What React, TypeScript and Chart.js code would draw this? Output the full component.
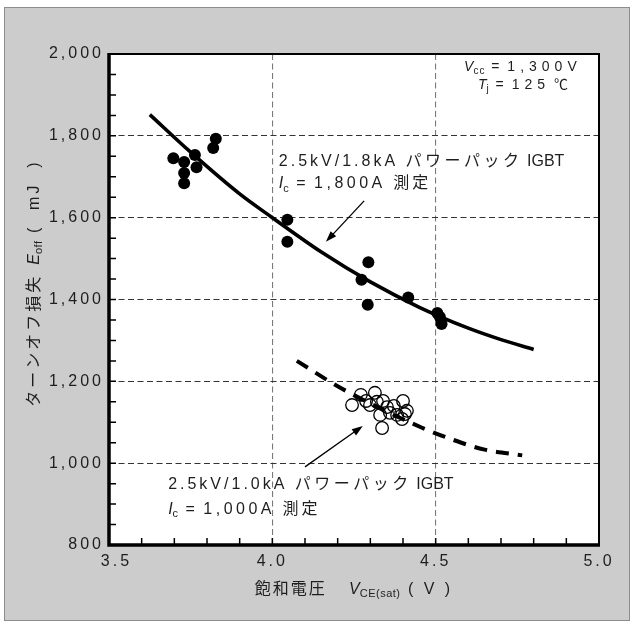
import React, { useEffect, useRef } from 'react';
import { Chart, registerables } from 'chart.js';

Chart.register(...registerables);

// ---- axis ranges / ticks ----
const X_MIN = 3.5;
const X_MAX = 5.0;
const X_STEP = 0.5;
const X_MINOR = 0.1;
const Y_MIN = 800;
const Y_MAX = 2000;
const Y_STEP = 200;
const Y_MINOR = 50;

// ---- 2.5kV/1.8kA measured points (filled) ----
const pts18X = [3.697, 3.730, 3.763, 3.768, 3.730, 3.730, 3.819, 3.827, 4.046, 4.046, 4.294, 4.273, 4.292, 4.416, 4.505, 4.513, 4.518];
const pts18Y = [1745, 1736, 1753, 1723, 1709, 1684, 1770, 1793, 1595, 1541, 1491, 1448, 1387, 1405, 1367, 1357, 1340];

// ---- 2.5kV/1.0kA measured points (open) ----
const pts10X = [4.244, 4.271, 4.287, 4.299, 4.314, 4.320, 4.339, 4.330, 4.336, 4.351, 4.360, 4.372, 4.382, 4.400, 4.406, 4.397, 4.412];
const pts10Y = [1142, 1167, 1152, 1142, 1172, 1150, 1152, 1118, 1086, 1137, 1123, 1140, 1118, 1152, 1120, 1108, 1128];

// ---- trend curves ----
const fit18X = [3.625, 3.75, 3.9, 4.0, 4.15, 4.3, 4.45, 4.6, 4.7, 4.8];
const fit18Y = [1852, 1760, 1658, 1600, 1516, 1443, 1381, 1330, 1302, 1278];
const fit10X = [4.075, 4.2, 4.33, 4.46, 4.55, 4.65, 4.765];
const fit10Y = [1250, 1188, 1134, 1086, 1058, 1033, 1019];

// ---- texts ----
const yTitleRuns = [
  { t: 'ターンオフ損失', ls: 3 },
  { t: '  ', ls: 0 },
  { t: 'E', it: true },
  { t: 'off', sub: true, ls: 0.5 },
  { t: ' (  mJ  )', ls: 3 },
];
const xTitleRuns = [
  { t: '飽和電圧', ls: 2 },
  { t: '     ', ls: 0 },
  { t: 'V', it: true },
  { t: 'CE(sat)', sub: true, ls: 0.5 },
  { t: ' ( V )', ls: 3 },
];
const ann18Line1 = [
  { t: '2.5kV/1.8kA', ls: 3 },
  { t: ' ', ls: 3 },
  { t: 'パワーパック', ls: 3.5 },
  { t: ' IGBT', ls: 0 },
];
const ann18Line2 = [
  { t: 'I', it: true },
  { t: 'c', sub: true, ls: 1 },
  { t: ' = ', ls: 2 },
  { t: '1,800A', ls: 3.5 },
  { t: ' 測定', ls: 3 },
];
const ann10Line1 = [
  { t: '2.5kV/1.0kA', ls: 3 },
  { t: ' ', ls: 3 },
  { t: 'パワーパック', ls: 3.5 },
  { t: ' IGBT', ls: 0 },
];
const ann10Line2 = [
  { t: 'I', it: true },
  { t: 'c', sub: true, ls: 1 },
  { t: ' = ', ls: 2 },
  { t: '1,000A', ls: 3.5 },
  { t: ' 測定', ls: 3 },
];
const condLine1 = [
  { t: 'V', it: true },
  { t: 'cc', sub: true, ls: 1 },
  { t: ' = ', ls: 2 },
  { t: '1,300V', ls: 5 },
];
const condLine2 = [
  { t: 'T', it: true },
  { t: 'j', sub: true, ls: 1 },
  { t: ' = ', ls: 2 },
  { t: '125', ls: 5 },
  { t: ' ℃', ls: 0 },
];

// annotation anchors (data units)
const ANN18 = { x: 4.02, y1: 1740, y2: 1686 };
const ANN10 = { x: 3.681, y1: 951, y2: 890 };
const COND = { x: 4.767, y1: 1970, y2: 1928 };
const ARROW18 = { x0: 4.281, y0: 1641, x1: 4.164, y1: 1541 };
const ARROW10 = { x0: 4.100, y0: 991, x1: 4.277, y1: 1091 };

const FONT = "'Liberation Sans', Arial, 'Noto Sans CJK JP', sans-serif";
const TEXT_COLOR = '#1e1e1e';

type Run = { t: string; it?: boolean; sub?: boolean; ls?: number };

function runFont(r: Run, size: number) {
  const s = r.sub ? Math.round(size * 0.68) : size;
  return `${r.it ? 'italic ' : ''}${s}px ${FONT}`;
}

function drawRich(ctx: any, runs: Run[], x: number, y: number, align: 'left' | 'center', size: number, rot = 0) {
  ctx.save();
  ctx.translate(x, y);
  if (rot) ctx.rotate(rot);
  ctx.textBaseline = 'alphabetic';
  ctx.textAlign = 'left';
  ctx.fillStyle = TEXT_COLOR;
  let total = 0;
  const widths = runs.map((r) => {
    ctx.font = runFont(r, size);
    ctx.letterSpacing = `${r.ls ?? 0}px`;
    const w = ctx.measureText(r.t).width;
    total += w;
    return w;
  });
  let cx = align === 'center' ? -total / 2 : 0;
  const base = size * 0.36;
  runs.forEach((r, i) => {
    ctx.font = runFont(r, size);
    ctx.letterSpacing = `${r.ls ?? 0}px`;
    ctx.fillText(r.t, cx, base + (r.sub ? size * 0.22 : 0));
    cx += widths[i];
  });
  ctx.restore();
}

function drawArrow(ctx: any, x0: number, y0: number, x1: number, y1: number) {
  const ang = Math.atan2(y1 - y0, x1 - x0);
  const hl = 11;
  const hw = 3.8;
  ctx.save();
  ctx.strokeStyle = '#000';
  ctx.fillStyle = '#000';
  ctx.lineWidth = 1.3;
  ctx.beginPath();
  ctx.moveTo(x0, y0);
  ctx.lineTo(x1 - Math.cos(ang) * hl * 0.8, y1 - Math.sin(ang) * hl * 0.8);
  ctx.stroke();
  ctx.beginPath();
  ctx.moveTo(x1, y1);
  ctx.lineTo(x1 - Math.cos(ang) * hl - Math.sin(ang) * hw, y1 - Math.sin(ang) * hl + Math.cos(ang) * hw);
  ctx.lineTo(x1 - Math.cos(ang) * hl + Math.sin(ang) * hw, y1 - Math.sin(ang) * hl - Math.cos(ang) * hw);
  ctx.closePath();
  ctx.fill();
  ctx.restore();
}

const decorPlugin = {
  id: 'decor',
  beforeLayout(chart: any) {
    chart.ctx.letterSpacing = '3px';
  },
  beforeDraw(chart: any) {
    const { ctx, chartArea: a, width, height } = chart;
    ctx.save();
    ctx.fillStyle = '#ffffff';
    ctx.fillRect(0, 0, width, height);
    ctx.fillStyle = '#cccccc';
    ctx.fillRect(4, 7, 626, 614);
    ctx.strokeStyle = '#8c8c8c';
    ctx.lineWidth = 1;
    ctx.strokeRect(4.5, 7.5, 625, 613);
    ctx.fillStyle = '#ffffff';
    ctx.fillRect(a.left, a.top, a.right - a.left, a.bottom - a.top);
    ctx.restore();
    ctx.letterSpacing = '3px';
  },
  afterDraw(chart: any) {
    const { ctx, chartArea: a } = chart;
    const xs = chart.scales.x;
    const ys = chart.scales.y;
    ctx.save();
    ctx.letterSpacing = '0px';
    // minor ticks (inside)
    ctx.strokeStyle = '#000';
    ctx.lineWidth = 1.5;
    ctx.beginPath();
    const nx = Math.round((X_MAX - X_MIN) / X_MINOR);
    for (let i = 1; i < nx; i++) {
      const px = xs.getPixelForValue(X_MIN + i * X_MINOR);
      ctx.moveTo(px, a.bottom);
      ctx.lineTo(px, a.bottom - 7);
    }
    const ny = Math.round((Y_MAX - Y_MIN) / Y_MINOR);
    for (let i = 1; i < ny; i++) {
      const py = ys.getPixelForValue(Y_MIN + i * Y_MINOR);
      ctx.moveTo(a.left, py);
      ctx.lineTo(a.left + 7, py);
    }
    ctx.stroke();
    // frame
    ctx.lineWidth = 2;
    ctx.strokeRect(a.left, a.top, a.right - a.left, a.bottom - a.top);
    ctx.lineWidth = 3.5;
    ctx.beginPath();
    ctx.moveTo(a.left, a.top - 1);
    ctx.lineTo(a.left, a.bottom);
    ctx.lineTo(a.right + 1, a.bottom);
    ctx.stroke();
    ctx.restore();

    // arrows
    drawArrow(ctx, xs.getPixelForValue(ARROW18.x0), ys.getPixelForValue(ARROW18.y0), xs.getPixelForValue(ARROW18.x1), ys.getPixelForValue(ARROW18.y1));
    drawArrow(ctx, xs.getPixelForValue(ARROW10.x0), ys.getPixelForValue(ARROW10.y0), xs.getPixelForValue(ARROW10.x1), ys.getPixelForValue(ARROW10.y1));

    // annotations
    drawRich(ctx, ann18Line1, xs.getPixelForValue(ANN18.x), ys.getPixelForValue(ANN18.y1), 'left', 16);
    drawRich(ctx, ann18Line2, xs.getPixelForValue(ANN18.x), ys.getPixelForValue(ANN18.y2), 'left', 16);
    drawRich(ctx, ann10Line1, xs.getPixelForValue(ANN10.x), ys.getPixelForValue(ANN10.y1), 'left', 16);
    drawRich(ctx, ann10Line2, xs.getPixelForValue(ANN10.x), ys.getPixelForValue(ANN10.y2), 'left', 16);
    drawRich(ctx, condLine1, xs.getPixelForValue(COND.x), ys.getPixelForValue(COND.y1), 'center', 14);
    drawRich(ctx, condLine2, xs.getPixelForValue(COND.x), ys.getPixelForValue(COND.y2), 'center', 14);

    // axis titles
    drawRich(ctx, yTitleRuns, 33, 283, 'center', 16, -Math.PI / 2);
    drawRich(ctx, xTitleRuns, (a.left + a.right) / 2, 588, 'center', 16);
  },
};

export default function App() {
  const canvasRef = useRef<HTMLCanvasElement | null>(null);

  useEffect(() => {
    const canvas = canvasRef.current;
    if (!canvas) return;
    const toXY = (xs: number[], ys: number[]) => xs.map((x, i) => ({ x, y: ys[i] }));
    const tickFont = { family: "'Liberation Sans', Arial, sans-serif", size: 16 };
    const chart = new Chart(canvas, {
      type: 'scatter',
      data: {
        datasets: [
          {
            label: 'filled',
            data: toXY(pts18X, pts18Y),
            pointRadius: 6,
            pointBackgroundColor: '#000',
            pointBorderWidth: 0,
            showLine: false,
          },
          {
            label: 'open',
            data: toXY(pts10X, pts10Y),
            pointRadius: 6.3,
            pointBackgroundColor: 'rgba(0,0,0,0)',
            pointBorderColor: '#000',
            pointBorderWidth: 1.3,
            showLine: false,
          },
          {
            label: 'fit18',
            data: toXY(fit18X, fit18Y),
            showLine: true,
            borderColor: '#000',
            borderWidth: 3.6,
            pointRadius: 0,
            cubicInterpolationMode: 'monotone',
          } as any,
          {
            label: 'fit10',
            data: toXY(fit10X, fit10Y),
            showLine: true,
            borderColor: '#000',
            borderWidth: 4,
            borderDash: [13, 9],
            pointRadius: 0,
            cubicInterpolationMode: 'monotone',
          } as any,
        ],
      },
      options: {
        animation: false,
        responsive: false,
        devicePixelRatio: 1,
        layout: { padding: { top: 54, right: 35, left: 0, bottom: 0 } },
        plugins: { legend: { display: false }, tooltip: { enabled: false } },
        scales: {
          x: {
            type: 'linear',
            min: X_MIN,
            max: X_MAX,
            afterFit: (s: any) => { s.height = 81; },
            ticks: {
              stepSize: X_STEP,
              font: tickFont,
              color: TEXT_COLOR,
              padding: 7,
              maxRotation: 0,
              callback: (v: any) => (Number(v) === X_MIN ? '  ' + Number(v).toFixed(1) : Number(v).toFixed(1)),
            },
            grid: {
              drawTicks: false,
              lineWidth: 1.1,
              color: (c: any) => (c.tick && (c.tick.value === X_MIN || c.tick.value === X_MAX) ? 'rgba(0,0,0,0)' : '#7a7a7a'),
            },
            border: { display: false, dash: [6, 3.5] },
          },
          y: {
            type: 'linear',
            min: Y_MIN,
            max: Y_MAX,
            afterFit: (s: any) => { s.width = 109; },
            ticks: {
              stepSize: Y_STEP,
              font: tickFont,
              color: TEXT_COLOR,
              padding: 5,
              callback: (v: any) => Number(v).toLocaleString('en-US'),
            },
            grid: {
              drawTicks: false,
              lineWidth: 1,
              color: (c: any) => (c.tick && (c.tick.value === Y_MIN || c.tick.value === Y_MAX) ? 'rgba(0,0,0,0)' : '#333333'),
            },
            border: { display: false, dash: [6, 3.5] },
          },
        },
      },
      plugins: [decorPlugin],
    } as any);
    return () => chart.destroy();
  }, []);

  return (
    <div style={{ position: 'fixed', left: 0, top: 0, width: 634, height: 626 }}>
      <canvas ref={canvasRef} width={634} height={626} style={{ display: 'block', width: 634, height: 626 }} />
    </div>
  );
}
